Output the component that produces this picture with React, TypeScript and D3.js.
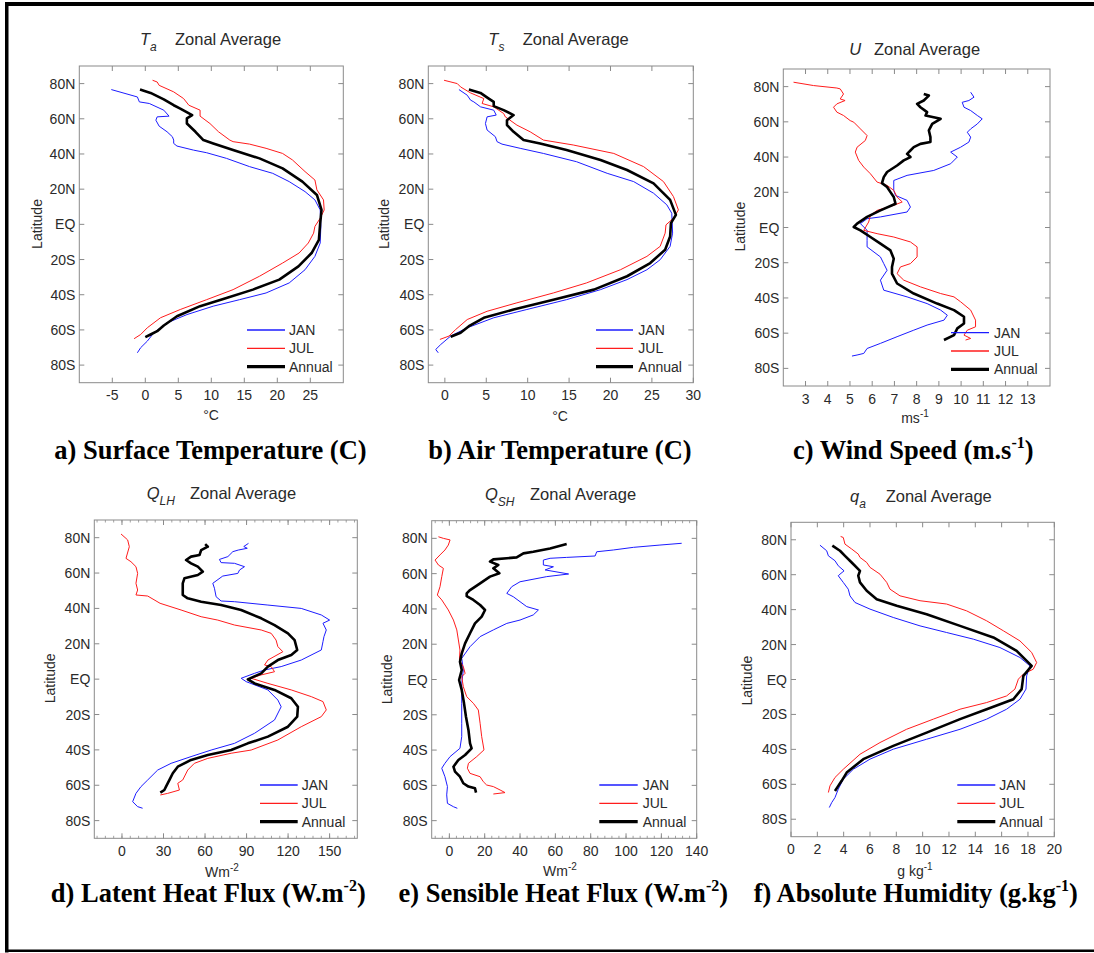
import React from 'react';
import * as d3 from 'd3';

type Pt = [number, number]; // [latitude, value]

const LAT_TICKS = [80, 60, 40, 20, 0, -20, -40, -60, -80];
const LAT_LABELS = ['80N', '60N', '40N', '20N', 'EQ', '20S', '40S', '60S', '80S'];
const SERIES = ['JAN', 'JUL', 'Annual'];
const COLORS = ['#1c1cff', '#ff1c1c', '#000000'];
const WIDTHS = [1, 1, 2.6];

// a) T_a
const taTicks = [-5, 0, 5, 10, 15, 20, 25];
const taJan: Pt[] = [[76.6,-5.15],[72.4,-1.2],[69.6,-0.9],[68.7,0.6],[64.9,2.8],[61.5,3.6],[61.1,1.8],[59.2,1.6],[55.8,2.1],[52.6,3.3],[49.8,4.1],[47.9,4.3],[46,4.3],[44.5,4.8],[42.2,7.3],[40.7,9.3],[37.5,12.3],[32.8,15.8],[29,19.3],[24.3,21.8],[18.6,24.2],[13.9,25.7],[8.2,26.5],[-1.2,26.6],[-10.6,26.5],[-18.2,25.7],[-25.8,24.2],[-33.3,21.8],[-39,18.3],[-42.8,14.3],[-46.5,10.3],[-51.3,6.3],[-56,3.3],[-61.6,1.3],[-66.4,0.3],[-70.1,-0.7],[-73,-1.2]];
const taJul: Pt[] = [[81.9,1.1],[80.9,1.8],[79,2.1],[75.3,4.3],[71.5,5.8],[67.7,6.6],[64.9,8.3],[61.5,8.3],[57.3,9.8],[52.6,11.1],[47.9,12.8],[47,13.3],[45.6,15.8],[43.2,18.3],[40.3,20.8],[36.6,22.3],[30,24.2],[25.2,25.7],[19.6,26],[13.9,27],[8.2,27.1],[3.5,26.5],[-1.2,25.7],[-5,25.5],[-10.6,24.7],[-16.3,23.3],[-22,20.8],[-29.5,17.3],[-37.1,13.3],[-42.8,9.3],[-48.4,5.3],[-53.1,2.3],[-58.8,0.3],[-62.6,-0.7],[-65,-1.7]];
const taAnn: Pt[] = [[76.6,-0.8],[74.7,0.8],[71,2.8],[67.7,4.3],[65.8,5.3],[62.1,7.1],[60.2,6.3],[57.3,6.3],[52.6,7.6],[47.9,8.8],[46,10.3],[42.2,13.3],[37.5,17.3],[31.8,20.8],[24.3,23.8],[16.7,26],[8.2,26.7],[0.7,26.5],[-8.8,26.3],[-16.3,25.2],[-23.9,23.2],[-31.4,20.3],[-37.1,16.3],[-41.8,12.3],[-46.5,8.3],[-52.2,4.8],[-57.5,2.8],[-60.7,1.8],[-62.6,0.8],[-64.1,0]];

// b) T_s
const tsTicks = [0, 5, 10, 15, 20, 25, 30];
const tsJan: Pt[] = [[76.6,1.7],[73.4,2.7],[70.6,3.1],[69.6,3.5],[66.8,4.3],[64.9,5.9],[62.1,6.2],[61.1,5.1],[57.3,4.9],[53.6,5.1],[49.8,6.1],[47,6.3],[45.6,6.9],[43.2,9.1],[40.3,11.9],[35.6,15.9],[29,19.6],[24.3,22.8],[17.7,25.2],[11.1,26.8],[6.3,27.4],[-5,27.5],[-12.5,27.2],[-20.1,26],[-25.8,24.4],[-31.4,22],[-37.1,18.8],[-42.8,14.7],[-48.4,9.9],[-53.1,5.9],[-58.8,2.7],[-63.5,0.7],[-68.3,-0.5],[-71.1,-1.1],[-73,-0.8]];
const tsJul: Pt[] = [[81.9,-0.1],[80,1.5],[78.1,1.9],[74.7,3.1],[71.5,4.7],[68.7,4.5],[66.8,5.9],[63,7.1],[61.1,7.3],[56.4,8.7],[52.6,10.3],[47.9,11.9],[45.1,15.5],[40.3,20.4],[32.8,24],[24.3,26.4],[15.8,27.6],[8.2,28.2],[3.5,27.6],[-0.3,26.7],[-5,26.6],[-12.5,26],[-18.2,24.4],[-25.8,21.2],[-33.3,17.1],[-39,13.1],[-44.6,8.7],[-49.4,5.1],[-54.1,2.7],[-59.8,1.3],[-63.5,0.5],[-65.4,-0.6]];
const tsAnn: Pt[] = [[76.6,2.9],[74.7,4.3],[71.5,5.3],[69.6,5.9],[67.2,5.9],[64.9,7.1],[62.1,8.3],[59.2,7.5],[56.4,7.5],[52.6,8.3],[47.9,9.5],[46,11.5],[42.2,14.7],[36.6,18.8],[30.9,22],[23.3,25.2],[13.9,27.2],[5.4,27.9],[0.7,27.3],[-6.9,27.2],[-14.4,26.6],[-22,24.8],[-29.5,22],[-37.1,18],[-42.8,13.1],[-48.4,8.3],[-53.1,4.7],[-57.9,2.9],[-61.6,1.9],[-63.9,0.7]];

// c) U
const uTicks = [3, 4, 5, 6, 7, 8, 9, 10, 11, 12, 13];
const uJan: Pt[] = [[76.8,10.43],[74,10.58],[72.1,10.35],[71.1,10.05],[68.3,10.13],[66.4,10.43],[63.6,10.73],[61.7,10.95],[58.8,10.73],[56,10.43],[54.1,10.28],[51.3,10.43],[48.5,10.35],[45.6,9.98],[42.8,9.53],[40,9.83],[36.2,9.53],[32.4,8.77],[29.6,7.57],[26.7,6.97],[21.1,6.97],[18.2,7.05],[15.4,7.57],[11.6,7.72],[8.8,7.57],[6,6.37],[5,5.77],[2.2,5.47],[-1.6,5.77],[-7.3,5.77],[-11,5.77],[-16.7,6.37],[-20.5,6.52],[-24.3,6.67],[-29.9,6.37],[-35.6,6.52],[-39.4,7.57],[-43.2,8.47],[-46.9,9.08],[-49.8,9.38],[-52.6,9.23],[-55.4,8.47],[-58.3,7.87],[-62,7.12],[-65.8,6.37],[-68.7,5.77],[-71.5,5.62],[-72.4,5.32],[-73,5.09]];
const uJul: Pt[] = [[82.5,2.46],[80.6,3.36],[79.2,4.41],[78.7,4.56],[75.8,4.71],[73,4.56],[72.1,4.78],[70.2,4.41],[68.3,4.26],[65.5,4.41],[63.6,4.71],[60.7,5.01],[59.8,5.17],[56,5.47],[52.2,5.77],[49.4,5.69],[45.6,5.32],[42.8,5.24],[38.1,5.39],[34.3,5.62],[30.5,5.92],[25.8,6.22],[23.9,6.67],[21.1,6.97],[17.3,7.12],[14.5,7.35],[12.6,6.97],[9.7,6.22],[6.9,5.92],[3.1,5.84],[-1.6,5.62],[-3.5,6.22],[-5.4,6.97],[-8.2,7.72],[-11,8.02],[-16.7,8.02],[-20.5,7.72],[-22.4,7.27],[-26.2,7.12],[-29.9,7.42],[-33.7,8.17],[-37.5,9.08],[-39.4,9.68],[-42.2,9.98],[-46.9,10.43],[-52.6,10.65],[-56.4,10.65],[-58.3,10.28],[-61.1,10.13],[-63,10.43],[-63.9,10.2]];
const uAnn: Pt[] = [[75.8,8.32],[74.9,8.55],[72.1,8.32],[70.2,8.02],[68.3,8.17],[65.5,8.47],[63.6,8.4],[61.7,9.08],[58.8,8.7],[55.1,8.55],[51.3,8.62],[48.5,8.62],[47.5,8.17],[45.6,7.87],[43.7,7.72],[41.8,7.57],[40,7.72],[38.1,7.42],[35.2,7.12],[31.5,6.67],[28.6,6.52],[25.2,6.44],[23,6.67],[20.1,6.82],[17.3,6.97],[13.5,7.05],[9.7,6.37],[6,5.77],[2.2,5.32],[0.3,5.17],[-1.6,5.47],[-5.4,5.92],[-9.2,6.37],[-13,6.82],[-17.7,6.97],[-22.4,6.89],[-26.2,6.89],[-31.8,7.12],[-37.5,7.87],[-43.2,8.92],[-46.9,9.68],[-50.7,10.13],[-54.5,10.13],[-57.3,9.83],[-61.1,9.68],[-63.9,9.23]];

// d) Q_LH
const qlhTicks = [0, 30, 60, 90, 120, 150];
const qlhJan: Pt[] = [[76.8,91.4],[75,88],[74,90.5],[73,84],[72.1,80.1],[69.3,76.5],[67.7,70.4],[65.9,71.6],[65.5,81.3],[63.6,88.5],[61.7,84.9],[59.8,83.7],[58.3,72.8],[54.2,65.6],[51.4,66.8],[46.6,68],[44.2,71.6],[43.8,81.3],[41.9,105.4],[40,129.5],[36.3,144],[33.4,150],[31.6,145.2],[27.8,147.6],[24,145.9],[21.2,145.2],[16.5,144],[10.8,129.5],[7.1,115],[5.2,103],[3.3,95.8],[0.5,86.1],[-1.4,89.7],[-6.1,105.4],[-11.8,112.6],[-15.6,115],[-23.1,110.2],[-30.6,95.8],[-36.3,81.3],[-40.1,64.4],[-43.8,49.9],[-47.6,35.5],[-51.4,25.8],[-57,18.6],[-60.8,13.7],[-64.6,10.1],[-69.3,7.7],[-72.1,11.3],[-73,14.9]];
const qlhJul: Pt[] = [[82.1,-0.7],[79.6,2.9],[78.7,4.1],[74.9,5.3],[68.3,2.9],[66.4,6.5],[63.6,10.1],[59.8,11.3],[54.2,10.1],[50.4,11.3],[47.6,10.1],[47,18.6],[42.9,27.5],[39.1,42.7],[35.3,57.2],[33.4,69.2],[30.6,81.3],[27.8,100.6],[25.9,107.8],[22.1,111.3],[18.4,112.6],[15.5,116.2],[10.8,105.4],[8,103],[7.1,107.8],[4.2,110.2],[2.4,100.6],[0.5,93.3],[-2.4,105.4],[-6.1,122.3],[-9.9,136.8],[-12.7,145.2],[-17.4,147.6],[-21.2,144],[-26.9,129.5],[-34.4,112.6],[-40.1,93.3],[-41.9,78.9],[-44.8,62],[-47.6,52.3],[-51.4,47.5],[-57,43.9],[-58.9,40.3],[-62.7,41.5],[-64.6,33],[-65.5,27.7]];
const qlhAnn: Pt[] = [[76.4,60.1],[74.9,62],[73,57.2],[70.2,56],[69.3,49.9],[67.4,46.3],[65.5,49.9],[63.6,54.8],[60.8,58.4],[58.9,54.8],[57,45.1],[54.2,43.9],[47.6,43.9],[45.7,47.5],[43.8,57.2],[41.9,71.6],[39.1,86.1],[34.4,100.6],[30.6,110.2],[25.9,119.9],[22.1,124.7],[16.5,126.6],[13.7,122.3],[10.8,112.6],[7.1,105.4],[3.3,100.6],[-0.1,90.9],[-2.4,95.8],[-6.1,110.2],[-10.8,122.3],[-15.6,127.1],[-21.2,126.6],[-26.9,119.9],[-32.5,105.4],[-36.3,90.9],[-40.1,78.9],[-42.9,62],[-45.7,49.9],[-49.5,40.3],[-53.2,36.7],[-57,34.3],[-60.8,31.8],[-62.7,30.6],[-64.2,27.7]];

// e) Q_SH
const qshTicks = [0, 20, 40, 60, 80, 100, 120, 140];
const qshJan: Pt[] = [[77.2,131.5],[76.2,119.2],[74.9,104.2],[73.4,92.8],[72.4,83.4],[70,82.5],[69.2,66.4],[68.7,57],[67.7,53.2],[64.9,53.2],[63.9,58.9],[62.1,54.2],[59.8,67.5],[58.3,55.1],[55.4,40],[52.6,35.3],[48.8,32.5],[46.9,36.2],[41.3,43.8],[39.4,50.4],[36.6,47.5],[33.7,40],[31.8,32.5],[28.1,24.9],[24.3,17.4],[18.6,11.7],[12,7],[5.4,7.9],[-2.2,7],[-13.5,7],[-24.8,7],[-32.4,7],[-39,6],[-43.7,0.4],[-47.5,-2.5],[-50.3,-4.3],[-55.1,-2.5],[-60.7,-1.1],[-65.4,-1.5],[-70.2,-1.1],[-72.1,2.3],[-73,4.5]];
const qshJul: Pt[] = [[80.9,-6.2],[80,-3.4],[79.1,0.4],[76.2,-0.6],[73.4,-2.5],[70.6,-5.3],[67.7,-8.1],[64.9,-6.2],[63,-3.4],[58.3,-4.3],[52.6,-5.3],[47.9,-6.8],[45.1,-4.3],[39.4,-0.6],[33.7,2.3],[28.1,4.2],[22.4,5.1],[16.7,6],[11,5.7],[7.3,7.9],[3.5,8.9],[1.6,7],[-4.1,7.9],[-9.7,9.8],[-13.5,13.6],[-17.3,16.4],[-24.8,17.4],[-32.4,18.3],[-39.9,19.6],[-43.7,15.5],[-47.5,10.8],[-50.3,10.2],[-53.2,11.7],[-55.1,17.4],[-57.9,19.2],[-59.8,21.1],[-60.7,24.9],[-62.6,28.7],[-64.1,31.5],[-64.9,24.9]];
const qshAnn: Pt[] = [[76.8,66.4],[74.3,57],[72.4,47.5],[71.5,41.9],[69.2,38.1],[68.1,24.9],[66.8,23],[64.9,27.7],[63,24.9],[60.2,28.3],[58.3,23],[54.5,17.4],[50.7,11.7],[48.8,9.8],[47.3,9.8],[45.1,13.6],[42.2,17.4],[39.4,20.2],[35.6,18.3],[31.8,14.5],[26.2,11.7],[20.5,8.9],[14.8,7],[10.1,6],[5.4,7],[-0.3,5.5],[-5.9,7],[-13.5,8.3],[-21.1,9.4],[-28.6,10.8],[-36.2,11.7],[-39,12.6],[-42.8,8.9],[-45.6,5.1],[-49.4,2.3],[-52.2,3.2],[-55.1,6],[-58.8,7.9],[-60.7,10.8],[-61.7,14.5],[-64.1,15.1]];

// f) q_a
const qaTicks = [0, 2, 4, 6, 8, 10, 12, 14, 16, 18, 20];
const qaJan: Pt[] = [[76.9,2.2],[73.7,2.71],[70.8,2.84],[68,3.34],[65.1,3.59],[62.2,4.03],[60.3,3.72],[59.4,3.59],[55.6,3.97],[51.7,4.35],[47.9,4.48],[44.1,4.86],[40.3,6],[35.5,7.77],[30.7,9.8],[26.9,11.82],[23.1,13.85],[18.3,15.87],[12.6,17.39],[7.8,18.15],[2.1,17.9],[-5.5,17.85],[-11.3,17.39],[-17,16.38],[-22.7,14.86],[-28.5,12.84],[-34.2,10.3],[-39.9,7.77],[-45.6,6],[-51.4,4.73],[-57.1,3.97],[-62.8,3.59],[-67.6,3.34],[-70.5,3.09],[-73.3,2.91]];
const qaJul: Pt[] = [[81.9,3.77],[81.3,3.97],[77.5,4.1],[74.7,4.61],[71.8,5.11],[69.9,5.24],[67,5.75],[64.2,6],[60.3,6.76],[55.6,7.27],[51.7,7.52],[47.9,8.28],[45.1,9.8],[43.2,11.82],[39.3,13.34],[33.6,14.86],[27.9,16.13],[22.1,17.39],[15.5,18.28],[9.7,18.66],[5.9,18.4],[3.1,17.65],[0.2,17.27],[-5.5,17.01],[-9.4,16.38],[-13.2,14.86],[-17,12.84],[-22.7,10.81],[-28.5,8.78],[-36.1,6.76],[-42.8,5.24],[-51.4,3.97],[-56.1,3.34],[-60.9,2.96],[-64.7,2.84]];
const qaAnn: Pt[] = [[76.6,3.14],[73.7,3.72],[70.8,4.1],[67,4.61],[62.2,5.24],[59.4,5.11],[55.6,5.24],[50.8,5.75],[46,6.51],[42.2,8.03],[37.4,10.3],[30.7,12.84],[24.1,15.37],[16.4,17.14],[7.8,18.28],[2.1,17.65],[-5.5,17.52],[-11.3,16.89],[-17,14.86],[-22.7,12.84],[-30.4,10.3],[-38,7.77],[-45.6,5.49],[-53.3,4.23],[-58,3.85],[-60.9,3.59],[-63.8,3.34]];

interface PanelCfg {
  box: { l: number; r: number; t: number; b: number };
  xDomain: [number, number];
  xTicks: number[];
  minorStep?: number;
  series: Pt[][];
  sym: string; sub: string; symX: number; zonalX: number; titleY: number;
  xlab: string; xlabSup?: string; xlabX: number; xlabY: number;
  ylabX: number; ylabY: number;
  leg: { x1: number; x2: number; tx: number; ys: number[] };
  cap: string; capSup?: string; capTail?: string; capX: number; capY: number;
}

const panels: PanelCfg[] = [
  {
    box: { l: 79.3, r: 343.3, t: 66, b: 382.7 }, xDomain: [-10, 30], xTicks: taTicks,
    series: [taJan, taJul, taAnn],
    sym: 'T', sub: 'a', symX: 140, zonalX: 175, titleY: 45,
    xlab: '°C', xlabX: 211, xlabY: 420,
    ylabX: 42, ylabY: 224,
    leg: { x1: 247, x2: 285, tx: 289, ys: [330, 348.3, 366.7] },
    cap: 'a) Surface Temperature (C)', capX: 210.5, capY: 459,
  },
  {
    box: { l: 428.3, r: 693.3, t: 66, b: 382.7 }, xDomain: [-2, 30], xTicks: tsTicks,
    series: [tsJan, tsJul, tsAnn],
    sym: 'T', sub: 's', symX: 488.3, zonalX: 522.7, titleY: 45,
    xlab: '°C', xlabX: 560, xlabY: 421,
    ylabX: 388.5, ylabY: 224,
    leg: { x1: 596, x2: 633, tx: 638.3, ys: [330, 348.3, 366.7] },
    cap: 'b) Air Temperature (C)', capX: 560, capY: 459,
  },
  {
    box: { l: 783.3, r: 1050, t: 69, b: 386 }, xDomain: [2, 14], xTicks: uTicks,
    series: [uJan, uJul, uAnn],
    sym: 'U', sub: '', symX: 849.3, zonalX: 874, titleY: 55,
    xlab: 'ms', xlabSup: '-1', xlabX: 915, xlabY: 423,
    ylabX: 745, ylabY: 226.7,
    leg: { x1: 951, x2: 989, tx: 994, ys: [332.7, 351, 369.3] },
    cap: 'c) Wind Speed (m.s', capSup: '-1', capTail: ')', capX: 913.3, capY: 459,
  },
  {
    box: { l: 94.3, r: 357.3, t: 520, b: 838.3 }, xDomain: [-20, 170], xTicks: qlhTicks, minorStep: 6,
    series: [qlhJan, qlhJul, qlhAnn],
    sym: 'Q', sub: 'LH', symX: 146.7, zonalX: 190, titleY: 498.5,
    xlab: 'Wm', xlabSup: '-2', xlabX: 222, xlabY: 876.5,
    ylabX: 55, ylabY: 678.3,
    leg: { x1: 260, x2: 297.7, tx: 301.7, ys: [785, 803.3, 821.7] },
    cap: 'd) Latent Heat Flux (W.m', capSup: '-2', capTail: ')', capX: 208.3, capY: 902,
  },
  {
    box: { l: 431.7, r: 696.7, t: 520.7, b: 838.3 }, xDomain: [-10, 140], xTicks: qshTicks, minorStep: 4,
    series: [qshJan, qshJul, qshAnn],
    sym: 'Q', sub: 'SH', symX: 485, zonalX: 530, titleY: 500,
    xlab: 'Wm', xlabSup: '-2', xlabX: 560, xlabY: 876,
    ylabX: 392.3, ylabY: 679.3,
    leg: { x1: 599.3, x2: 637.7, tx: 642.7, ys: [785, 803.3, 821.7] },
    cap: 'e) Sensible Heat Flux (W.m', capSup: '-2', capTail: ')', capX: 563.3, capY: 902,
  },
  {
    box: { l: 791, r: 1054.3, t: 522.3, b: 836.7 }, xDomain: [0, 20], xTicks: qaTicks,
    series: [qaJan, qaJul, qaAnn],
    sym: 'q', sub: 'a', symX: 850, zonalX: 885.7, titleY: 501.7,
    xlab: 'g kg', xlabSup: '-1', xlabX: 915, xlabY: 876,
    ylabX: 752.3, ylabY: 680.7,
    leg: { x1: 957.3, x2: 995.3, tx: 999.3, ys: [785, 803.3, 821.7] },
    cap: 'f) Absolute Humidity (g.kg', capSup: '-1', capTail: ')', capX: 915.8, capY: 902,
  },
];

const SANS = '"Liberation Sans", Arial, Helvetica, sans-serif';
const SERIF = '"Liberation Serif", "Times New Roman", serif';
const AXIS = '#8a8a8a';
const TXT = '#2a2a2a';

function Panel({ p }: { p: PanelCfg }) {
  const { box } = p;
  const x = d3.scaleLinear().domain(p.xDomain).range([box.l, box.r]);
  const y = d3.scaleLinear().domain([-90, 90]).range([box.b, box.t]);
  const line = d3.line<Pt>().x(d => x(d[1])).y(d => y(d[0])).curve(d3.curveLinear);
  const tl = 5;
  const minor = p.minorStep
    ? d3.range(Math.ceil(p.xDomain[0] / p.minorStep) * p.minorStep, p.xDomain[1] + 1e-9, p.minorStep)
    : [];
  return (
    <g>
      <rect x={box.l} y={box.t} width={box.r - box.l} height={box.b - box.t} fill="#fff" stroke={AXIS} strokeWidth={1} />
      {minor.map((v, i) => (
        <g key={'m' + i} stroke={AXIS} strokeWidth={0.8}>
          <line x1={x(v)} x2={x(v)} y1={box.t} y2={box.t + 2.5} />
          <line x1={x(v)} x2={x(v)} y1={box.b} y2={box.b - 2.5} />
        </g>
      ))}
      {p.xTicks.map((v, i) => (
        <g key={'x' + i}>
          <line x1={x(v)} x2={x(v)} y1={box.t} y2={box.t + tl} stroke={AXIS} />
          <line x1={x(v)} x2={x(v)} y1={box.b} y2={box.b - tl} stroke={AXIS} />
          <text x={x(v)} y={box.b + 17.5} textAnchor="middle" fontSize={14} fontFamily={SANS} fill={TXT}>{v}</text>
        </g>
      ))}
      {LAT_TICKS.map((v, i) => (
        <g key={'y' + i}>
          <line x1={box.l} x2={box.l + tl} y1={y(v)} y2={y(v)} stroke={AXIS} />
          <line x1={box.r} x2={box.r - tl} y1={y(v)} y2={y(v)} stroke={AXIS} />
          <text x={box.l - 4} y={y(v) + 5} textAnchor="end" fontSize={14} fontFamily={SANS} fill={TXT}>{LAT_LABELS[i]}</text>
        </g>
      ))}
      {p.series.map((s, i) => (
        <path key={'s' + i} d={line(s) || ''} fill="none" stroke={COLORS[i]} strokeWidth={WIDTHS[i]} strokeLinejoin="round" />
      ))}
      {SERIES.map((name, i) => (
        <g key={'l' + i}>
          <line x1={p.leg.x1} x2={p.leg.x2} y1={p.leg.ys[i]} y2={p.leg.ys[i]} stroke={COLORS[i]} strokeWidth={WIDTHS[i] + (i < 2 ? 0.3 : 0.6)} />
          <text x={p.leg.tx} y={p.leg.ys[i] + 5} fontSize={14} fontFamily={SANS} fill={TXT}>{name}</text>
        </g>
      ))}
      {/* title */}
      <text x={p.symX} y={p.titleY} fontSize={16.5} fontFamily={SANS} fontStyle="italic" fill={TXT}>
        {p.sym}
        {p.sub && <tspan fontSize={12} dy={6}>{p.sub}</tspan>}
      </text>
      <text x={p.zonalX} y={p.titleY} fontSize={16.5} fontFamily={SANS} fill={TXT}>Zonal Average</text>
      {/* x label */}
      <text x={p.xlabX} y={p.xlabY} textAnchor="middle" fontSize={14} fontFamily={SANS} fill={TXT}>
        {p.xlab}
        {p.xlabSup && <tspan fontSize={10} dy={-6}>{p.xlabSup}</tspan>}
      </text>
      {/* y label */}
      <text transform={`translate(${p.ylabX},${p.ylabY}) rotate(-90)`} textAnchor="middle" fontSize={14} fontFamily={SANS} fill={TXT}>Latitude</text>
      {/* caption */}
      <text x={p.capX} y={p.capY} textAnchor="middle" fontSize={26.5} fontWeight="bold" fontFamily={SERIF} fill="#000">
        {p.cap}
        {p.capSup && <tspan fontSize={16} dy={-11}>{p.capSup}</tspan>}
        {p.capTail && <tspan dy={11}>{p.capTail}</tspan>}
      </text>
    </g>
  );
}

export default function App() {
  return (
    <svg width={1094} height={953} style={{ position: 'absolute', left: 0, top: 0, background: '#fff' }}>
      <rect x={0} y={0} width={1094} height={953} fill="#fff" />
      {panels.map((p, i) => <Panel key={i} p={p} />)}
      <rect x={5} y={2} width={1089} height={4} fill="#000" />
      <rect x={5} y={2} width={3.5} height={950.5} fill="#000" />
      <rect x={5} y={949.5} width={1089} height={2.5} fill="#000" />
    </svg>
  );
}
